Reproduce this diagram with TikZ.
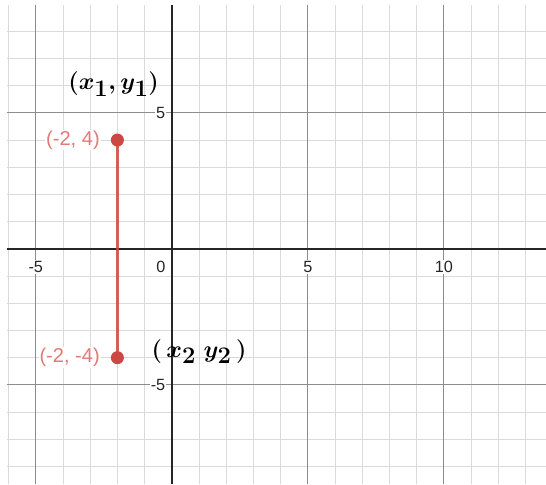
\documentclass[tikz,border=0pt]{standalone}
\usepackage{amsmath}
\usepackage{fontspec}
\setmainfont{Liberation Sans}
\usetikzlibrary{positioning}
\definecolor{minorgray}{RGB}{218,218,218}
\definecolor{majorgray}{RGB}{140,140,140}
\definecolor{segred}{RGB}{204,72,68}
\definecolor{lblred}{RGB}{226,122,118}
\tikzset{
  minorline/.style={draw=minorgray, line width=1pt},
  majorline/.style={draw=majorgray, line width=1pt},
  axisline/.style={draw=black!85, line width=1.6pt},
  ticklabel/.style={font=\fontsize{17}{20}\selectfont, text=black!85, fill=white, inner sep=1pt},
  ptdot/.style={circle, fill=segred, inner sep=0pt, minimum size=0.48cm},
  ptlabel/.style={font=\fontsize{21}{24}\selectfont, text=lblred, fill=white, inner sep=1pt},
  handnote/.style={font=\fontsize{36}{40}\selectfont, text=black, inner sep=0pt, anchor=base}
}
\begin{document}
\begin{tikzpicture}
    \useasboundingbox (-6.316,-8.645) rectangle (13.757,9.149);
    % Grid
    \foreach \x in {-6,...,13} \draw[minorline] (\x,-8.645) -- (\x,8.965);
    \foreach \y in {-8,...,8} \draw[minorline] (-6.06,\y) -- (13.757,\y);
    \foreach \x in {-5,5,10} \draw[majorline] (\x,-8.645) -- (\x,8.965);
    \foreach \y in {-5,5} \draw[majorline] (-6.06,\y) -- (13.757,\y);
    % Axes
    \draw[axisline] (0,-8.645) -- (0,8.965);
    \draw[axisline] (-6.06,0) -- (13.757,0);
    % Tick numbers
    \foreach \x in {-5,5,10} \node[ticklabel] (xtick\x) at (\x,-0.67) {\x};
    \node[ticklabel] (origin) at (-0.4,-0.67) {0};
    \node[ticklabel, anchor=east] (ytick5) at (-0.2,5) {5};
    \node[ticklabel, anchor=east] (ytickm5) at (-0.2,-5) {-5};
    % Segment and end points
    \coordinate (top) at (-2,4);
    \coordinate (bottom) at (-2,-4);
    \draw[segred, opacity=0.85, line width=2.6pt] (top) -- (bottom);
    \node[ptdot] (topdot) at (top) {};
    \node[ptdot] (bottomdot) at (bottom) {};
    \node[ptlabel, left=0.36cm of topdot] (toplabel) {(-2, 4)};
    \node[ptlabel, left=0.36cm of bottomdot] (bottomlabel) {(-2, -4)};
    % Handwritten notes
    \node[handnote] (note1) at (-2.14,5.86) {$\boldsymbol{(x_1,y_1)}$};
    \node[handnote] (note2) at (1.0,-3.98) {$\boldsymbol{(\,x_2\;y_2\,)}$};
\end{tikzpicture}
\end{document}
